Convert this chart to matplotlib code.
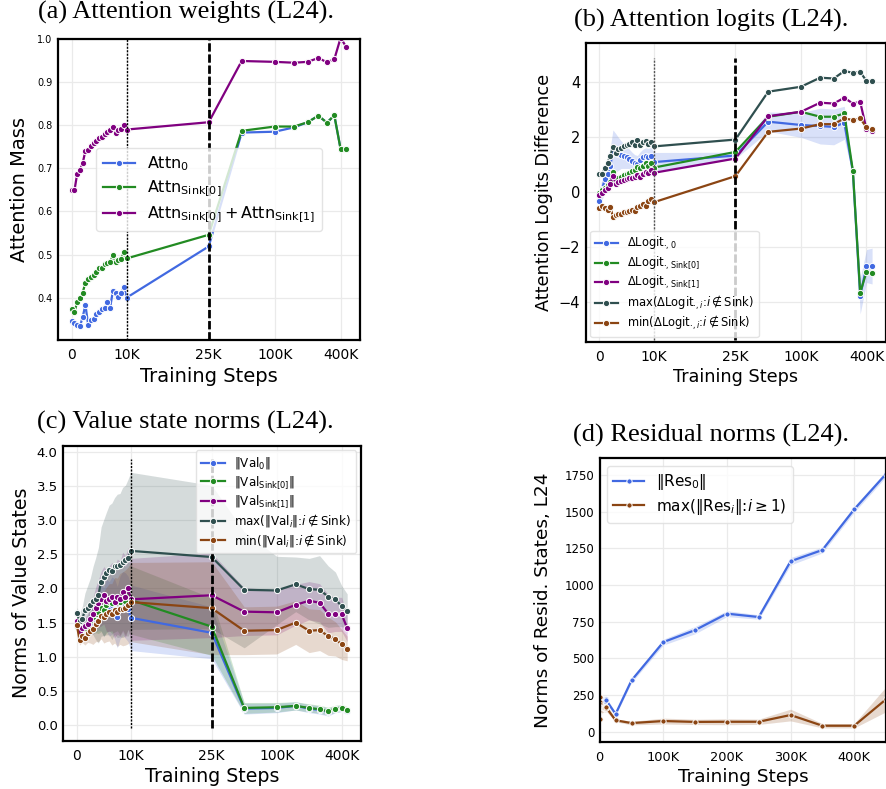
import numpy as np
import matplotlib
matplotlib.use("Agg")
import matplotlib.pyplot as plt

plt.rcParams['font.family'] = ['DejaVu Sans']
plt.rcParams['mathtext.fontset'] = 'dejavusans'

# ---------------- data ----------------
steps_early = [0, 500, 1000, 1500, 2000, 2500, 3000, 3500, 4000, 4500, 5000,
               5500, 6000, 6500, 7000, 7500, 8000, 8500, 9000, 9500, 10000]
steps_late = [25000, 50000, 100000, 150000, 200000, 250000, 300000, 350000, 400000, 450000]
steps = steps_early + steps_late

xtick_vals = [0, 10000, 25000, 100000, 400000]
xtick_labels = ['0', '10K', '25K', '100K', '400K']

# (a) attention weights
attn0 = [0.347, 0.341, 0.337, 0.334, 0.355, 0.384, 0.337, 0.349, 0.350, 0.363, 0.368,
         0.373, 0.376, 0.390, 0.376, 0.415, 0.410, 0.402, 0.410, 0.425, 0.400,
         0.519, 0.783, 0.785, 0.795, 0.807, 0.822, 0.806, 0.823, 0.744, 0.744]
attn_sink0 = [0.373, 0.367, 0.390, 0.400, 0.412, 0.435, 0.443, 0.449, 0.453, 0.460, 0.468,
              0.470, 0.478, 0.480, 0.482, 0.498, 0.484, 0.488, 0.490, 0.505, 0.491,
              0.546, 0.787, 0.797, 0.797, 0.807, 0.822, 0.806, 0.823, 0.744, 0.744]
attn_sink01 = [0.651, 0.649, 0.688, 0.697, 0.712, 0.741, 0.742, 0.752, 0.759, 0.764, 0.770,
               0.773, 0.780, 0.785, 0.790, 0.795, 0.783, 0.790, 0.791, 0.800, 0.790,
               0.807, 0.949, 0.947, 0.945, 0.947, 0.956, 0.946, 0.953, 1.003, 0.981]

# (b) attention logits
logit0 = [-0.35, 0.10, 0.45, 0.65, 0.95, 1.45, 1.42, 1.38, 1.35, 1.30, 1.25,
          1.20, 1.12, 1.05, 1.00, 1.15, 1.25, 1.30, 1.28, 1.32, 1.08,
          1.32, 2.55, 2.43, 2.39, 2.36, 2.51, 0.73, -3.79, -2.70, -2.70]
logit0_err = [0.35, 0.40, 0.45, 0.55, 0.65, 0.80, 0.70, 0.60, 0.50, 0.45, 0.40,
              0.35, 0.32, 0.30, 0.32, 0.30, 0.30, 0.30, 0.30, 0.30, 0.35,
              0.12, 0.35, 0.45, 0.65, 0.65, 0.60, 0.12, 0.65, 0.60, 0.65]
logit_sink0 = [-0.05, 0.05, 0.15, 0.25, 0.35, 0.72, 0.45, 0.50, 0.55, 0.60, 0.65,
               0.70, 0.75, 0.80, 0.90, 0.85, 0.95, 1.05, 0.95, 1.05, 0.88,
               1.45, 2.73, 2.91, 2.73, 2.73, 2.85, 0.76, -3.67, -2.91, -2.95]
logit_sink1 = [-0.10, -0.05, 0.05, 0.15, 0.30, 0.58, 0.30, 0.35, 0.40, 0.42, 0.45,
               0.50, 0.52, 0.55, 0.60, 0.55, 0.65, 0.72, 0.70, 0.80, 0.69,
               1.21, 2.75, 2.91, 3.24, 3.21, 3.42, 3.21, 3.27, 2.27, 2.20]
logit_max = [0.65, 0.65, 0.85, 1.05, 1.30, 1.62, 1.40, 1.55, 1.60, 1.65, 1.70,
             1.75, 1.80, 1.70, 1.88, 1.72, 1.80, 1.85, 1.75, 1.82, 1.65,
             1.90, 3.64, 3.82, 4.15, 4.12, 4.39, 4.33, 4.36, 4.03, 4.04]
logit_min = [-0.60, -0.50, -0.60, -0.65, -0.55, -0.90, -0.85, -0.80, -0.80, -0.75, -0.72,
             -0.70, -0.65, -0.70, -0.55, -0.50, -0.45, -0.50, -0.35, -0.25, -0.38,
             0.57, 2.18, 2.30, 2.46, 2.46, 2.67, 2.61, 2.67, 2.34, 2.27]

# (c) value state norms
val0 = [1.45, 1.32, 1.38, 1.40, 1.42, 1.50, 1.55, 1.62, 1.68, 1.72, 1.65,
        1.75, 1.70, 1.75, 1.70, 1.58, 1.72, 1.78, 1.75, 1.70, 1.57,
        1.35, 0.24, 0.25, 0.28, 0.24, 0.22, 0.19, 0.23, 0.24, 0.21]
val0_err = [0.05, 0.07, 0.09, 0.11, 0.14, 0.18, 0.22, 0.26, 0.30, 0.34, 0.36,
            0.38, 0.40, 0.42, 0.44, 0.45, 0.46, 0.47, 0.48, 0.48, 0.48,
            0.38, 0.08, 0.07, 0.06, 0.06, 0.06, 0.06, 0.05, 0.05, 0.05]
val_sink0 = [1.45, 1.35, 1.40, 1.42, 1.45, 1.52, 1.58, 1.62, 1.65, 1.72, 1.68,
             1.75, 1.80, 1.78, 1.82, 1.85, 1.80, 1.88, 1.82, 1.90, 1.83,
             1.44, 0.25, 0.26, 0.28, 0.25, 0.23, 0.20, 0.24, 0.25, 0.22]
val_sink0_err = [0.05, 0.07, 0.09, 0.12, 0.15, 0.19, 0.23, 0.27, 0.31, 0.35, 0.38,
                 0.40, 0.42, 0.44, 0.46, 0.47, 0.48, 0.49, 0.50, 0.50, 0.50,
                 0.42, 0.08, 0.07, 0.06, 0.06, 0.06, 0.06, 0.05, 0.05, 0.05]
val_sink1 = [1.52, 1.38, 1.42, 1.45, 1.48, 1.55, 1.62, 1.72, 1.78, 1.85, 1.90,
             1.82, 1.85, 1.88, 1.80, 1.88, 1.85, 1.95, 1.88, 2.00, 1.84,
             1.90, 1.66, 1.65, 1.76, 1.82, 1.79, 1.63, 1.62, 1.62, 1.42]
val_sink1_err = [0.05, 0.08, 0.10, 0.12, 0.15, 0.20, 0.25, 0.30, 0.35, 0.40, 0.42,
                 0.45, 0.48, 0.50, 0.52, 0.55, 0.55, 0.58, 0.60, 0.60, 0.60,
                 0.62, 0.35, 0.33, 0.30, 0.28, 0.28, 0.28, 0.25, 0.25, 0.20]
val_max = [1.64, 1.52, 1.55, 1.68, 1.72, 1.75, 1.82, 1.85, 1.90, 2.10, 2.16,
           2.22, 2.27, 2.25, 2.33, 2.33, 2.34, 2.38, 2.41, 2.45, 2.55,
           2.46, 1.98, 1.97, 2.06, 1.99, 1.98, 1.88, 1.84, 1.74, 1.67]
val_max_err = [0.08, 0.12, 0.18, 0.25, 0.32, 0.40, 0.50, 0.60, 0.70, 0.80, 0.85,
               0.90, 0.95, 1.00, 1.00, 1.05, 1.05, 1.10, 1.10, 1.15, 1.15,
               1.05, 0.85, 0.50, 0.40, 0.45, 0.50, 0.45, 0.40, 0.30, 0.25]
val_min = [1.47, 1.24, 1.30, 1.28, 1.35, 1.38, 1.40, 1.48, 1.52, 1.60, 1.58,
           1.62, 1.65, 1.62, 1.68, 1.65, 1.70, 1.70, 1.72, 1.75, 1.80,
           1.71, 1.38, 1.39, 1.50, 1.38, 1.39, 1.30, 1.26, 1.18, 1.12]
val_min_err = [0.05, 0.07, 0.09, 0.11, 0.14, 0.18, 0.22, 0.26, 0.30, 0.34, 0.38,
               0.40, 0.42, 0.45, 0.48, 0.50, 0.52, 0.54, 0.55, 0.56, 0.58,
               0.68, 0.35, 0.35, 0.32, 0.32, 0.30, 0.28, 0.25, 0.22, 0.18]

# (d) residual norms
res0 = [150, 230, 215, 205, 195, 220, 200, 210, 195, 205, 215,
        210, 200, 220, 210, 205, 215, 220, 210, 225, 216,
        121, 350, 611, 693, 805, 782, 1162, 1239, 1516, 1757]
res0_err = [25, 25, 25, 25, 25, 25, 25, 25, 25, 25, 25,
            25, 25, 25, 25, 25, 25, 25, 25, 25, 20,
            10, 15, 20, 25, 20, 15, 25, 20, 20, 20]
res_max = [90, 240, 200, 180, 160, 170, 150, 160, 155, 165, 160,
           170, 165, 160, 170, 165, 160, 170, 165, 160, 166,
           78, 59, 73, 67, 68, 68, 114, 41, 41, 221]
res_max_err = [30, 30, 30, 30, 30, 30, 30, 30, 30, 30, 30,
               30, 30, 30, 30, 30, 30, 30, 30, 30, 25,
               10, 12, 20, 18, 20, 18, 40, 15, 15, 85]

BLUE = '#4169E1'
GREEN = '#228B22'
PURPLE = '#800080'
DARK = '#2F4F4F'
BROWN = '#8B4513'


def fwd(x):
    x = np.asarray(x, dtype=float)
    big = x > 25000
    safe = np.where(big, x, 25000.0)
    return np.where(big, 25.0 + 20.0 * np.log10(safe / 25000.0), x / 1000.0)


def inv(u):
    u = np.asarray(u, dtype=float)
    big = u > 25.0
    safe = np.where(big, u, 25.0)
    return np.where(big, 25000.0 * 10 ** ((safe - 25.0) / 20.0), u * 1000.0)


def style(ax, tick_x, tick_y):
    ax.set_facecolor('white')
    ax.grid(True, color='#EAEAEA', lw=0.9)
    ax.set_axisbelow(True)
    for s in ax.spines.values():
        s.set_color('black')
        s.set_linewidth(1.6)
    ax.tick_params(axis='both', length=0)
    ax.tick_params(axis='x', labelsize=tick_x, pad=6)
    ax.tick_params(axis='y', labelsize=tick_y, pad=4)


def line(ax, x, y, color, label, err=None, ms=4.5, band_alpha=0.2):
    x = np.asarray(x, float)
    y = np.asarray(y, float)
    if err is not None:
        e = np.asarray(err, float)
        ax.fill_between(x, y - e, y + e, color=color, alpha=band_alpha, lw=0)
    ax.plot(x, y, color=color, lw=1.6, marker='o', ms=ms,
            mec='white', mew=0.7, label=label)


def setx(ax):
    ax.set_xscale('function', functions=(fwd, inv))
    ax.set_xticks(xtick_vals)
    ax.set_xticklabels(xtick_labels)


fig = plt.figure(figsize=(8.87, 7.89), dpi=100)
W, H = 887.0, 789.0


def axes_px(l, t, r, b):
    return fig.add_axes([l / W, 1 - b / H, (r - l) / W, (b - t) / H])


# ---------- (a) ----------
ax = axes_px(58, 39, 360, 340)
style(ax, 10, 7)
line(ax, steps, attn0, BLUE, r'$\mathrm{Attn}_0$')
line(ax, steps, attn_sink0, GREEN, r'$\mathrm{Attn}_{\mathrm{Sink}[0]}$')
line(ax, steps, attn_sink01, PURPLE,
     r'$\mathrm{Attn}_{\mathrm{Sink}[0]} + \mathrm{Attn}_{\mathrm{Sink}[1]}$')
setx(ax)
ax.set_ylim(0.302, 1.0)
ax.set_yticks([0.4, 0.5, 0.6, 0.7, 0.8, 0.9, 1.0])
ax.axvline(10000, color='black', lw=1.0, ls=(0, (1.5, 1.0)))
ax.axvline(25000, color='black', lw=2.0, ls=(0, (3, 1)))
ax.set_xlabel('Training Steps', fontsize=14, labelpad=3)
ax.set_ylabel('Attention Mass', fontsize=14, labelpad=6)
ax.legend(loc='center', fontsize=11.5, framealpha=0.8, edgecolor='#DDDDDD',
          labelspacing=0.35)

# ---------- (b) ----------
ax = axes_px(585.7, 43.3, 885.7, 341.7)
style(ax, 10, 10.5)
line(ax, steps, logit0, BLUE, r'$\Delta\mathrm{Logit}_{\cdot,0}$', logit0_err)
line(ax, steps, logit_sink0, GREEN, r'$\Delta\mathrm{Logit}_{\cdot,\mathrm{Sink}[0]}$')
line(ax, steps, logit_sink1, PURPLE, r'$\Delta\mathrm{Logit}_{\cdot,\mathrm{Sink}[1]}$')
line(ax, steps, logit_max, DARK, r'max($\Delta\mathrm{Logit}_{\cdot,i}$:$i \notin \mathrm{Sink}$)')
line(ax, steps, logit_min, BROWN, r'min($\Delta\mathrm{Logit}_{\cdot,i}$:$i \notin \mathrm{Sink}$)')
setx(ax)
ax.vlines(10000, -5.4, 4.85, color='#555555', lw=1.0, linestyles=[(0, (1.5, 1.0))])
ax.vlines(25000, -5.4, 4.85, color='black', lw=2.0, linestyles=[(0, (3, 1))])
ax.set_ylim(-5.45, 5.4)
ax.set_yticks([-4, -2, 0, 2, 4])
ax.set_xlabel('Training Steps', fontsize=12.7, labelpad=3)
ax.set_ylabel('Attention Logits Difference', fontsize=12.7, labelpad=4)
ax.legend(loc='lower left', fontsize=8.3, framealpha=0.8, edgecolor='#DDDDDD',
          labelspacing=0.2, borderaxespad=0.4)

# ---------- (c) ----------
ax = axes_px(63.3, 445.7, 360.7, 740.7)
style(ax, 10, 9.5)
line(ax, steps, val0, BLUE, r'$\Vert\mathrm{Val}_0\Vert$', val0_err)
line(ax, steps, val_sink0, GREEN, r'$\Vert\mathrm{Val}_{\mathrm{Sink}[0]}\Vert$', val_sink0_err)
line(ax, steps, val_sink1, PURPLE, r'$\Vert\mathrm{Val}_{\mathrm{Sink}[1]}\Vert$', val_sink1_err)
line(ax, steps, val_max, DARK, r'max($\Vert\mathrm{Val}_i\Vert$:$i \notin \mathrm{Sink}$)', val_max_err)
line(ax, steps, val_min, BROWN, r'min($\Vert\mathrm{Val}_i\Vert$:$i \notin \mathrm{Sink}$)', val_min_err)
setx(ax)
ax.vlines(10000, -0.04, 3.9, color='black', lw=1.0, linestyles=[(0, (1.5, 1.0))])
ax.vlines(25000, -0.04, 3.9, color='black', lw=2.0, linestyles=[(0, (3, 1))])
ax.set_ylim(-0.23, 4.09)
ax.set_yticks([0.0, 0.5, 1.0, 1.5, 2.0, 2.5, 3.0, 3.5, 4.0])
ax.set_xlabel('Training Steps', fontsize=13.7, labelpad=3)
ax.set_ylabel('Norms of Value States', fontsize=13.7, labelpad=4)
ax.legend(loc='upper right', fontsize=8.6, framealpha=0.8, edgecolor='#DDDDDD',
          labelspacing=0.2, borderaxespad=0.4)

# ---------- (d) ----------
ax = axes_px(599.7, 458.3, 886, 742.3)
style(ax, 9.3, 8.5)
line(ax, steps, res0, BLUE, r'$\Vert\mathrm{Res}_0\Vert$', res0_err, ms=3.8)
line(ax, steps, res_max, BROWN, r'max($\Vert\mathrm{Res}_i\Vert$:$i \geq 1$)', res_max_err, ms=3.8)
ax.set_xlim(0, 450000)
ax.set_ylim(-72, 1864)
ax.set_xticks([0, 100000, 200000, 300000, 400000])
ax.set_xticklabels(['0', '100K', '200K', '300K', '400K'])
ax.set_yticks([0, 250, 500, 750, 1000, 1250, 1500, 1750])
ax.set_xlabel('Training Steps', fontsize=13.3, labelpad=3)
ax.set_ylabel('Norms of Resid. States, L24', fontsize=13.3, labelpad=9)
ax.legend(loc='upper left', fontsize=11, framealpha=0.8, edgecolor='#DDDDDD',
          labelspacing=0.3)

# ---------- captions ----------
cap = dict(family=['Liberation Serif', 'DejaVu Serif'], fontsize=19, ha='center', va='center')
fig.text(185.8 / W, 1 - 12 / H, '(a) Attention weights (L24).', **cap)
fig.text(710.8 / W, 1 - 20 / H, '(b) Attention logits (L24).', **cap)
fig.text(185 / W, 1 - 422 / H, '(c) Value state norms (L24).', **cap)
fig.text(710.8 / W, 1 - 435 / H, '(d) Residual norms (L24).', **cap)

fig.savefig('out.png', dpi=100)
